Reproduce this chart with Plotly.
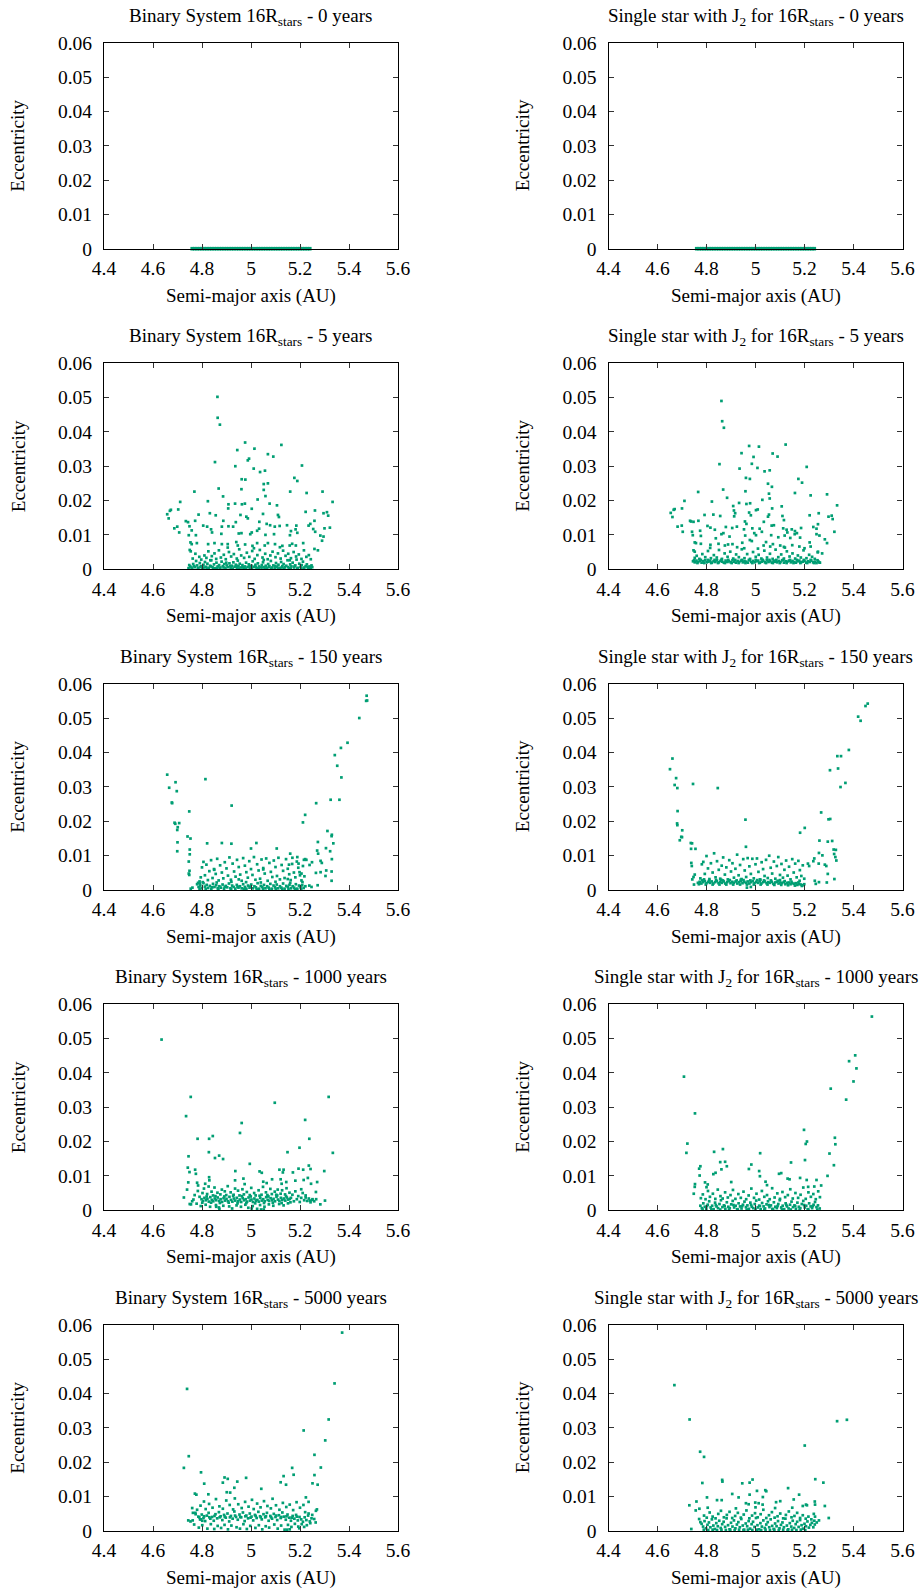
import plotly.graph_objects as go

# axis ticks
A_TICKS = [4.4, 4.6, 4.8, 5.0, 5.2, 5.4, 5.6]
A_LABELS = ["4.4", "4.6", "4.8", "5", "5.2", "5.4", "5.6"]
E_TICKS = [0, 0.01, 0.02, 0.03, 0.04, 0.05, 0.06]
E_LABELS = ["0", "0.01", "0.02", "0.03", "0.04", "0.05", "0.06"]

YEARS = [0, 5, 150, 1000, 5000]

# t = 0: every particle on a circular orbit (e = 0)
ring_a = [4.76, 4.77, 4.78, 4.79, 4.80, 4.81, 4.82, 4.83, 4.84, 4.85, 4.86, 4.87,
          4.88, 4.89, 4.90, 4.91, 4.92, 4.93, 4.94, 4.95, 4.96, 4.97, 4.98, 4.99,
          5.00, 5.01, 5.02, 5.03, 5.04, 5.05, 5.06, 5.07, 5.08, 5.09, 5.10, 5.11,
          5.12, 5.13, 5.14, 5.15, 5.16, 5.17, 5.18, 5.19, 5.20, 5.21, 5.22, 5.23, 5.24]
ring_e = [0.0] * len(ring_a)

# (semi-major axis AU, eccentricity x 1000)
binary_5 = [
    (4.863, 50.2), (4.864, 44.1), (4.873, 42.1), (4.976, 36.9), (5.124, 36.2), (4.944, 34.7),
    (5.014, 35.1), (5.069, 33.5), (5.091, 32.8), (4.992, 32.2), (4.987, 31.7), (4.853, 31.2),
    (4.936, 30.0), (5.208, 30.2), (5.011, 29.3), (5.037, 28.3), (5.057, 28.7), (5.177, 26.6),
    (5.189, 25.7), (4.962, 26.2), (4.977, 26.1), (5.052, 24.8), (5.069, 25.0), (5.052, 23.1),
    (5.059, 21.3), (4.961, 23.3), (4.868, 23.5), (4.769, 22.6), (5.160, 22.6), (5.227, 22.2),
    (5.292, 22.6), (4.886, 21.2), (5.027, 20.3), (4.824, 19.8), (4.711, 19.6), (5.333, 19.6),
    (5.076, 19.1), (4.908, 18.9), (4.935, 19.1), (4.963, 18.9), (4.975, 19.1), (5.106, 18.6),
    (5.003, 17.6), (4.907, 17.7), (4.673, 17.3), (4.669, 17.0), (4.703, 17.4), (5.261, 17.1),
    (5.223, 16.7), (5.310, 16.6), (5.296, 16.3), (4.658, 16.0), (4.664, 14.8), (4.832, 16.3),
    (4.856, 15.7), (4.786, 15.9), (5.049, 16.1), (4.957, 15.8), (4.981, 15.3), (4.987, 14.8),
    (5.110, 15.8), (5.114, 15.2), (5.315, 15.6), (5.034, 13.8), (4.734, 14.0), (4.743, 13.7),
    (4.749, 12.5), (4.772, 14.1), (4.887, 14.1), (4.938, 13.7), (5.242, 13.2), (5.259, 14.1),
    (4.687, 11.9), (4.699, 12.4), (4.707, 10.7), (4.805, 12.7), (4.821, 12.4), (4.881, 12.4),
    (4.908, 12.5), (4.927, 12.4), (5.064, 13.2), (5.078, 12.8), (5.097, 12.4), (5.117, 12.6),
    (5.147, 12.8), (5.185, 12.7), (5.300, 11.9), (5.322, 12.1), (5.235, 12.7), (4.758, 11.3),
    (4.746, 9.9), (4.775, 9.9), (4.837, 11.6), (4.841, 10.7), (4.879, 10.3), (4.950, 10.4),
    (4.961, 10.5), (5.003, 10.7), (4.997, 10.2), (5.025, 11.2), (5.033, 11.8), (5.059, 10.0),
    (5.094, 10.2), (5.163, 11.1), (5.159, 9.9), (5.182, 11.6), (5.189, 10.6), (5.254, 11.7),
    (5.262, 10.9), (5.283, 9.8), (5.296, 9.5), (5.290, 8.3), (4.753, 7.8), (4.758, 7.3),
    (4.779, 7.6), (4.750, 5.6), (4.754, 5.2), (4.825, 7.3), (4.851, 7.6), (4.881, 7.3),
    (4.905, 7.3), (4.940, 7.9), (4.946, 6.9), (4.976, 7.2), (5.006, 6.8), (5.025, 7.6),
    (5.056, 6.9), (5.069, 7.6), (5.098, 7.3), (5.128, 6.8), (5.158, 6.9), (5.168, 7.4),
    (5.183, 6.9), (5.213, 7.6), (5.259, 5.9), (5.273, 5.5),
    # 2 - 6 per mille
    (4.762, 3.1), (4.773, 4.5), (4.789, 3.6), (4.797, 2.8), (4.810, 4.0), (4.818, 3.3),
    (4.826, 5.2), (4.840, 3.8), (4.851, 4.6), (4.858, 3.0), (4.869, 5.5), (4.877, 3.4),
    (4.889, 4.2), (4.897, 2.9), (4.910, 5.0), (4.919, 3.7), (4.930, 4.4), (4.942, 3.1),
    (4.952, 5.8), (4.960, 4.0), (4.972, 3.3), (4.983, 4.8), (4.993, 3.6), (5.005, 5.3),
    (5.015, 3.0), (5.026, 4.1), (5.036, 5.6), (5.047, 3.4), (5.058, 4.5), (5.068, 2.9),
    (5.079, 4.0), (5.088, 5.1), (5.100, 3.5), (5.110, 4.6), (5.121, 3.1), (5.131, 5.4),
    (5.141, 3.9), (5.152, 4.5), (5.163, 3.2), (5.174, 5.0), (5.184, 3.7), (5.195, 4.3),
    (5.206, 3.0), (5.216, 5.5), (5.226, 3.6), (5.236, 4.1), (5.244, 2.9), (4.834, 2.6),
    (4.946, 2.5), (5.052, 2.7), (5.158, 2.6), (4.905, 6.3), (5.012, 6.1), (5.118, 6.4),
    # dense band near e = 0
    (4.745, 0.3), (4.752, 0.8), (4.760, 0.2), (4.764, 1.5), (4.771, 0.6), (4.776, 2.4),
    (4.780, 1.1), (4.785, 0.4), (4.791, 1.8), (4.796, 0.9), (4.802, 0.3), (4.806, 1.3),
    (4.812, 2.1), (4.817, 0.7), (4.822, 1.6), (4.828, 0.4), (4.833, 1.0), (4.838, 2.6),
    (4.843, 0.6), (4.849, 1.4), (4.854, 0.3), (4.859, 1.9), (4.864, 0.8), (4.870, 1.2),
    (4.875, 0.5), (4.880, 2.2), (4.885, 0.9), (4.891, 1.5), (4.896, 0.3), (4.901, 1.1),
    (4.906, 0.6), (4.912, 1.7), (4.917, 0.4), (4.922, 1.0), (4.928, 2.0), (4.933, 0.7),
    (4.938, 1.3), (4.943, 0.4), (4.949, 0.9), (4.954, 1.6), (4.959, 0.5), (4.965, 1.2),
    (4.970, 0.3), (4.975, 0.8), (4.980, 1.9), (4.986, 0.6), (4.991, 1.4), (4.996, 0.4),
    (5.002, 1.0), (5.007, 2.3), (5.012, 0.7), (5.018, 1.3), (5.023, 0.3), (5.028, 1.7),
    (5.033, 0.8), (5.039, 0.5), (5.044, 1.2), (5.049, 2.0), (5.054, 0.6), (5.060, 1.0),
    (5.065, 0.4), (5.070, 1.5), (5.075, 0.9), (5.081, 2.4), (5.086, 0.5), (5.091, 1.1),
    (5.097, 0.3), (5.102, 1.8), (5.107, 0.7), (5.112, 1.3), (5.118, 0.4), (5.123, 2.1),
    (5.128, 0.9), (5.133, 1.5), (5.139, 0.6), (5.144, 1.0), (5.149, 2.6), (5.155, 0.3),
    (5.160, 1.4), (5.165, 0.8), (5.170, 1.9), (5.176, 0.5), (5.181, 1.1), (5.186, 2.8),
    (5.191, 0.4), (5.197, 1.6), (5.202, 0.7), (5.207, 1.2), (5.212, 2.2), (5.218, 0.5),
    (5.223, 0.9), (5.228, 1.4), (5.234, 0.3), (5.239, 0.8), (5.244, 0.4), (5.250, 0.6),
    (4.748, 1.2), (4.757, 0.5), (4.768, 0.9), (4.783, 0.2), (4.794, 0.6), (4.809, 0.5),
    (4.820, 0.2), (4.836, 0.8), (4.846, 0.2), (4.862, 0.4), (4.873, 0.2), (4.888, 0.5),
    (4.899, 1.9), (4.915, 0.9), (4.925, 0.2), (4.941, 1.0), (4.951, 0.2), (4.967, 0.6),
    (4.978, 0.2), (4.994, 0.9), (5.004, 0.3), (5.020, 0.6), (5.031, 0.2), (5.046, 0.5),
    (5.057, 0.2), (5.073, 0.6), (5.083, 0.2), (5.099, 0.9), (5.110, 0.2), (5.126, 0.5),
    (5.136, 0.2), (5.152, 0.6), (5.162, 0.2), (5.178, 0.9), (5.189, 0.2), (5.205, 0.4),
    (5.215, 0.2), (5.231, 0.6), (5.241, 0.2), (5.247, 1.1),
]

single_5 = [
    (4.861, 49.0), (4.864, 43.1), (4.871, 41.2), (4.853, 30.6), (5.123, 36.3), (4.974, 35.9),
    (5.014, 35.7), (4.943, 33.8), (5.070, 33.7), (5.090, 32.8), (4.992, 32.7), (5.209, 29.8),
    (4.985, 30.7), (4.935, 29.3), (5.008, 29.5), (5.037, 28.5), (5.058, 28.8), (4.961, 26.6),
    (4.977, 26.3), (5.175, 26.3), (5.190, 25.2), (5.051, 24.9), (5.067, 24.0), (4.868, 23.2),
    (4.766, 22.5), (4.959, 22.7), (5.055, 22.0), (5.058, 20.6), (5.161, 22.2), (5.225, 21.5),
    (5.292, 21.8), (4.884, 20.8), (5.028, 20.2), (4.710, 19.9), (4.822, 19.7), (5.333, 18.6),
    (4.933, 19.3), (4.963, 19.0), (4.978, 19.2), (5.107, 18.3), (4.909, 18.4), (4.912, 17.1),
    (4.670, 17.5), (4.666, 17.3), (4.700, 17.7), (5.002, 17.2), (5.009, 17.4), (5.068, 17.7),
    (4.654, 16.4), (4.661, 15.2), (4.792, 15.8), (4.828, 15.9), (4.856, 15.5), (4.917, 16.3),
    (4.913, 15.4), (4.974, 16.5), (4.981, 15.7), (5.055, 15.9), (5.051, 15.3), (5.110, 15.5),
    (5.116, 14.3), (5.221, 15.7), (5.258, 16.3), (5.298, 15.3), (5.311, 15.6), (5.315, 14.6),
    (4.733, 14.1), (4.737, 13.9), (4.747, 13.8), (4.767, 14.1), (4.957, 13.9), (4.963, 13.2),
    (5.034, 13.8), (5.066, 12.7), (5.075, 12.8), (5.255, 13.1), (5.249, 11.8), (4.682, 12.4),
    (4.699, 12.7), (4.703, 10.9), (4.804, 12.6), (4.816, 12.1), (4.879, 12.3), (4.905, 12.0),
    (4.924, 12.4), (4.987, 11.9), (5.017, 11.8), (5.113, 11.9), (5.127, 11.5), (5.148, 11.6),
    (5.161, 11.1), (5.186, 12.0), (5.236, 12.3), (5.322, 10.9), (4.741, 10.9), (4.744, 9.9),
    (4.774, 11.2), (4.777, 9.7), (4.834, 11.5), (4.838, 9.0), (4.861, 10.2), (4.869, 10.5),
    (4.894, 9.5), (4.958, 9.8), (4.953, 11.6), (4.995, 10.5), (5.002, 9.9), (5.026, 10.9),
    (5.064, 9.9), (5.093, 9.3), (5.119, 9.8), (5.130, 10.7), (5.142, 9.1), (5.160, 10.2),
    (5.169, 10.5), (5.182, 9.2), (5.249, 10.2), (5.261, 9.8), (5.283, 8.7), (5.292, 7.6),
    (4.752, 7.8), (4.757, 7.6), (4.777, 7.4), (4.747, 5.5), (4.752, 5.1), (4.816, 7.1),
    (4.849, 7.4), (4.875, 6.9), (4.888, 7.2), (4.906, 7.3), (4.946, 7.7), (4.954, 6.1),
    (4.977, 8.5), (4.985, 8.2), (5.033, 6.9), (5.043, 7.9), (5.060, 6.6), (5.071, 7.3),
    (5.101, 6.9), (5.116, 6.5), (5.150, 7.0), (5.179, 6.6), (5.221, 7.8), (5.225, 6.6),
    (5.272, 4.6), (5.255, 5.1),
    # 3 - 6 per mille
    (4.752, 3.3), (4.760, 3.9), (4.771, 3.0), (4.783, 4.4), (4.795, 3.5), (4.806, 5.3),
    (4.818, 3.2), (4.830, 4.1), (4.842, 3.4), (4.851, 5.6), (4.863, 3.0), (4.874, 4.6),
    (4.886, 3.6), (4.897, 5.1), (4.909, 3.1), (4.921, 4.3), (4.932, 3.5), (4.944, 5.8),
    (4.955, 3.2), (4.966, 4.4), (4.978, 3.0), (4.990, 5.0), (5.001, 3.6), (5.013, 4.2),
    (5.024, 3.1), (5.036, 5.4), (5.047, 3.4), (5.059, 4.5), (5.070, 3.0), (5.082, 5.7),
    (5.093, 3.5), (5.105, 4.3), (5.116, 3.1), (5.128, 5.2), (5.139, 3.7), (5.151, 4.6),
    (5.162, 3.1), (5.173, 4.0), (5.185, 3.4), (5.196, 5.5), (5.208, 3.2), (5.219, 4.2),
    (5.231, 3.6), (5.242, 3.0), (5.254, 4.9), (4.815, 6.2), (4.925, 6.4), (5.010, 6.0),
    (5.120, 6.3), (5.200, 6.1),
    # narrow band at about 2 per mille
    (4.745, 2.3), (4.752, 2.0), (4.759, 2.5), (4.766, 2.1), (4.773, 2.4), (4.780, 1.9),
    (4.787, 2.3), (4.794, 2.6), (4.801, 2.0), (4.808, 2.2), (4.815, 2.5), (4.822, 1.9),
    (4.829, 2.3), (4.836, 2.1), (4.843, 2.6), (4.850, 2.0), (4.857, 2.4), (4.864, 2.2),
    (4.871, 1.9), (4.878, 2.5), (4.885, 2.1), (4.892, 2.3), (4.899, 2.0), (4.906, 2.6),
    (4.913, 2.2), (4.920, 1.9), (4.927, 2.4), (4.934, 2.1), (4.941, 2.5), (4.948, 2.0),
    (4.955, 2.3), (4.962, 2.2), (4.969, 1.9), (4.976, 2.6), (4.983, 2.1), (4.990, 2.4),
    (4.997, 2.0), (5.004, 2.3), (5.011, 2.5), (5.018, 1.9), (5.025, 2.2), (5.032, 2.4),
    (5.039, 2.0), (5.046, 2.6), (5.053, 2.1), (5.060, 2.3), (5.067, 1.9), (5.074, 2.5),
    (5.081, 2.2), (5.088, 2.0), (5.095, 2.4), (5.102, 2.1), (5.109, 2.6), (5.116, 1.9),
    (5.123, 2.3), (5.130, 2.2), (5.137, 2.5), (5.144, 2.0), (5.151, 2.4), (5.158, 2.1),
    (5.165, 1.9), (5.172, 2.3), (5.179, 2.5), (5.186, 2.0), (5.193, 2.2), (5.200, 2.4),
    (5.207, 1.9), (5.214, 2.3), (5.221, 2.1), (5.228, 2.5), (5.235, 2.0), (5.242, 2.2),
    (5.249, 1.8), (5.256, 2.3), (5.263, 1.9),
    (4.749, 2.6), (4.763, 1.8), (4.777, 2.7), (4.791, 1.8), (4.805, 2.7), (4.819, 1.8),
    (4.833, 2.7), (4.847, 1.8), (4.861, 2.7), (4.875, 1.8), (4.889, 2.7), (4.903, 1.8),
    (4.917, 2.7), (4.931, 1.8), (4.945, 2.7), (4.959, 1.8), (4.973, 2.7), (4.987, 1.8),
    (5.001, 2.7), (5.015, 1.8), (5.029, 2.7), (5.043, 1.8), (5.057, 2.7), (5.071, 1.8),
    (5.085, 2.7), (5.099, 1.8), (5.113, 2.7), (5.127, 1.8), (5.141, 2.7), (5.155, 1.8),
    (5.169, 2.7), (5.183, 1.8), (5.197, 2.7), (5.211, 1.8), (5.225, 2.7), (5.239, 1.8),
    (5.253, 2.6), (5.260, 2.0),
]

binary_150 = [
    (5.472, 56.5), (5.474, 55.1), (5.470, 55.0), (5.442, 50.0),
    (4.658, 33.5), (4.666, 29.7), (4.692, 31.3), (4.697, 28.7), (4.677, 25.4), (4.678, 25.2),
    (4.688, 19.5), (4.691, 19.2), (4.707, 19.4), (4.701, 18.2), (4.699, 17.4), (4.700, 13.8),
    (4.699, 11.2), (4.814, 32.2), (4.748, 22.8), (4.921, 24.5), (4.741, 15.5), (4.753, 14.9),
    (4.750, 11.7), (4.746, 8.2), (4.750, 10.3), (4.749, 5.5), (4.746, 4.7), (4.748, 4.3),
    (4.821, 13.5), (4.881, 13.6), (4.920, 13.4), (5.000, 12.0), (5.022, 13.6), (5.105, 12.0),
    (5.342, 39.2), (5.367, 41.3), (5.394, 42.8), (5.352, 36.1), (5.369, 32.7), (5.325, 26.2),
    (5.361, 26.2), (5.266, 25.2), (5.221, 21.8), (5.212, 19.6), (5.312, 17.1), (5.330, 16.0),
    (5.329, 15.6), (5.273, 13.9), (5.336, 13.5), (5.306, 12.1), (5.323, 11.2), (5.270, 11.4),
    (5.274, 10.5), (5.284, 8.4), (5.289, 7.8), (5.330, 8.9), (5.249, 8.0), (5.239, 7.2),
    (5.265, 4.9), (5.284, 5.1), (5.307, 5.6), (5.329, 5.3), (5.304, 4.0), (5.329, 2.6),
    (5.272, 1.3), (5.238, 1.2), (5.247, 0.8), (5.160, 10.5), (5.169, 9.3), (5.155, 7.3),
    (5.189, 9.5), (5.194, 7.6), (5.221, 8.9), (5.216, 8.7), (5.226, 8.7), (5.198, 5.1),
    (5.206, 4.7), (4.754, 0.3), (4.761, 0.6), (4.784, 2.0), (4.791, 1.8),
    # 2 - 9.5 per mille
    (4.795, 3.6), (4.800, 6.5), (4.806, 8.1), (4.812, 4.2), (4.818, 7.3), (4.824, 2.8),
    (4.830, 5.4), (4.837, 8.6), (4.843, 3.4), (4.849, 6.0), (4.856, 4.6), (4.862, 9.0),
    (4.868, 2.7), (4.874, 7.1), (4.881, 5.0), (4.887, 3.3), (4.893, 8.0), (4.900, 6.2),
    (4.906, 4.1), (4.912, 9.4), (4.918, 2.9), (4.925, 7.6), (4.931, 5.3), (4.937, 3.8),
    (4.943, 8.7), (4.950, 6.6), (4.956, 4.4), (4.962, 2.6), (4.968, 9.2), (4.975, 7.0),
    (4.981, 5.1), (4.987, 3.5), (4.993, 8.3), (5.000, 6.0), (5.006, 4.3), (5.012, 9.5),
    (5.018, 2.9), (5.025, 7.4), (5.031, 5.6), (5.037, 3.2), (5.043, 8.8), (5.050, 6.3),
    (5.056, 4.7), (5.062, 9.1), (5.068, 2.6), (5.075, 7.8), (5.081, 5.2), (5.087, 3.7),
    (5.093, 8.5), (5.100, 6.6), (5.106, 4.0), (5.112, 9.3), (5.118, 3.0), (5.125, 7.2),
    (5.131, 5.5), (5.137, 3.4), (5.143, 8.9), (5.150, 6.1), (5.156, 4.5), (5.162, 2.8),
    (5.168, 7.5), (5.175, 5.0), (5.181, 3.6), (5.187, 8.2), (5.193, 6.4), (5.200, 4.2),
    (5.206, 2.7), (5.212, 6.9), (5.218, 3.9), (4.790, 2.4), (4.803, 2.2), (4.860, 2.1),
    (4.920, 2.3), (4.980, 2.2), (5.040, 2.1), (5.100, 2.3), (5.160, 2.0), (5.210, 2.2),
    (4.850, 5.8), (4.950, 3.0), (5.050, 5.9), (5.150, 3.1),
    # dense band near e = 0
    (4.780, 1.6), (4.786, 0.8), (4.793, 1.2), (4.799, 0.4), (4.806, 1.9), (4.812, 0.9),
    (4.819, 1.4), (4.825, 0.5), (4.832, 1.1), (4.838, 0.3), (4.845, 1.7), (4.851, 0.8),
    (4.858, 1.3), (4.864, 0.4), (4.871, 1.0), (4.877, 0.6), (4.884, 1.5), (4.890, 0.3),
    (4.897, 1.1), (4.903, 0.7), (4.910, 1.8), (4.916, 0.4), (4.923, 1.2), (4.929, 0.8),
    (4.936, 0.3), (4.942, 1.4), (4.949, 0.6), (4.955, 1.0), (4.962, 0.4), (4.968, 1.6),
    (4.975, 0.8), (4.981, 0.3), (4.988, 1.2), (4.994, 0.6), (5.001, 1.5), (5.007, 0.4),
    (5.014, 1.0), (5.020, 0.7), (5.027, 1.9), (5.033, 0.3), (5.040, 1.1), (5.046, 0.8),
    (5.053, 1.4), (5.059, 0.4), (5.066, 1.0), (5.072, 0.6), (5.079, 1.7), (5.085, 0.3),
    (5.092, 1.2), (5.098, 0.7), (5.105, 1.5), (5.111, 0.4), (5.118, 1.0), (5.124, 0.6),
    (5.131, 1.8), (5.137, 0.3), (5.144, 1.1), (5.150, 0.8), (5.157, 1.4), (5.163, 0.4),
    (5.170, 1.0), (5.176, 0.6), (5.183, 1.6), (5.189, 0.3), (5.196, 1.2), (5.202, 0.7),
    (5.209, 1.3), (5.215, 0.5), (5.222, 1.0),
    (4.790, 0.3), (4.815, 0.2), (4.842, 0.7), (4.867, 0.2), (4.893, 0.8), (4.919, 0.2),
    (4.945, 0.9), (4.971, 0.2), (4.997, 0.9), (5.023, 0.2), (5.049, 0.3), (5.075, 0.2),
    (5.101, 0.3), (5.127, 0.2), (5.153, 0.2), (5.179, 0.2), (5.205, 0.2),
]

single_150 = [
    (5.458, 54.2), (5.449, 53.5), (5.419, 50.4), (5.429, 49.2),
    (4.651, 35.1), (4.661, 38.2), (4.676, 32.5), (4.670, 30.5), (4.681, 29.6), (4.745, 30.8),
    (4.846, 29.6), (4.682, 22.9), (4.680, 19.3), (4.681, 18.8), (4.701, 17.3), (4.697, 15.4),
    (4.691, 14.4), (4.700, 15.3), (4.736, 13.6), (4.741, 13.5), (4.737, 11.9), (4.755, 11.9),
    (4.738, 7.8), (4.740, 6.9), (4.747, 3.7), (4.752, 4.4), (4.749, 1.5), (4.742, 3.0),
    (4.959, 20.4), (4.961, 12.5), (5.268, 22.5), (5.298, 20.5), (5.305, 20.6), (5.182, 16.6),
    (5.201, 18.0), (5.304, 34.8), (5.334, 38.9), (5.349, 38.9), (5.381, 40.7), (5.337, 35.3),
    (5.347, 29.9), (5.367, 31.1), (5.261, 14.3), (5.295, 14.0), (5.313, 14.2), (5.259, 10.7),
    (5.273, 10.0), (5.319, 11.7), (5.328, 11.6), (5.321, 10.4), (5.326, 9.5), (5.330, 8.5),
    (5.283, 7.3), (5.289, 6.9), (5.295, 4.6), (5.291, 2.1), (5.322, 3.1), (5.236, 8.3),
    (5.258, 7.6), (5.240, 9.1), (5.214, 7.6), (5.219, 6.9), (5.242, 2.6), (5.259, 2.2),
    (5.246, 1.7), (4.965, 0.6), (4.981, 0.8),
    # 2.5 - 11 per mille
    (4.775, 3.3), (4.781, 7.4), (4.787, 8.1), (4.793, 4.6), (4.800, 9.8), (4.806, 6.2),
    (4.812, 3.1), (4.818, 7.7), (4.825, 5.0), (4.831, 10.6), (4.837, 3.6), (4.843, 8.3),
    (4.850, 5.8), (4.856, 3.2), (4.862, 7.0), (4.868, 9.4), (4.875, 4.4), (4.881, 6.5),
    (4.887, 3.0), (4.893, 8.6), (4.900, 5.3), (4.906, 7.7), (4.912, 3.5), (4.918, 6.1),
    (4.925, 10.2), (4.931, 4.2), (4.937, 7.2), (4.943, 3.1), (4.950, 8.9), (4.956, 5.6),
    (4.962, 3.7), (4.968, 9.2), (4.975, 6.8), (4.981, 4.6), (4.987, 9.0), (4.993, 3.3),
    (5.000, 7.4), (5.006, 9.1), (5.012, 5.2), (5.018, 3.0), (5.025, 8.0), (5.031, 6.0),
    (5.037, 4.0), (5.043, 8.7), (5.050, 3.4), (5.056, 9.9), (5.062, 6.4), (5.068, 4.7),
    (5.075, 8.2), (5.081, 3.2), (5.087, 6.9), (5.093, 9.5), (5.100, 4.3), (5.106, 7.5),
    (5.112, 3.5), (5.118, 5.8), (5.125, 8.5), (5.131, 4.1), (5.137, 6.7), (5.143, 3.0),
    (5.150, 8.9), (5.156, 5.0), (5.162, 7.6), (5.168, 3.6), (5.175, 8.4), (5.181, 5.7),
    (5.187, 4.0), (5.193, 7.1), (5.199, 3.2), (4.790, 3.0), (4.860, 2.9), (4.940, 2.9),
    (5.020, 2.9), (5.100, 2.8), (5.180, 2.6),
    # band at about 2 per mille
    (4.765, 2.0), (4.772, 2.3), (4.779, 1.8), (4.786, 2.2), (4.793, 2.5), (4.800, 1.9),
    (4.807, 2.3), (4.814, 2.0), (4.821, 2.4), (4.828, 1.8), (4.835, 2.2), (4.842, 2.5),
    (4.849, 1.9), (4.856, 2.3), (4.863, 2.0), (4.870, 2.4), (4.877, 1.8), (4.884, 2.2),
    (4.891, 2.5), (4.898, 1.9), (4.905, 2.3), (4.912, 2.0), (4.919, 2.4), (4.926, 1.8),
    (4.933, 2.2), (4.940, 2.5), (4.947, 1.9), (4.954, 2.3), (4.961, 2.0), (4.968, 2.4),
    (4.975, 1.8), (4.982, 2.2), (4.989, 2.5), (4.996, 1.9), (5.003, 2.3), (5.010, 2.0),
    (5.017, 2.4), (5.024, 1.8), (5.031, 2.2), (5.038, 2.4), (5.045, 1.9), (5.052, 2.2),
    (5.059, 2.0), (5.066, 2.3), (5.073, 1.7), (5.080, 2.1), (5.087, 2.3), (5.094, 1.8),
    (5.101, 2.1), (5.108, 1.9), (5.115, 2.2), (5.122, 1.6), (5.129, 2.0), (5.136, 2.1),
    (5.143, 1.6), (5.150, 1.9), (5.157, 1.7), (5.164, 1.9), (5.171, 1.4), (5.178, 1.7),
    (5.185, 1.5), (5.192, 1.3), (5.199, 1.6),
    (4.769, 1.6), (4.783, 2.7), (4.797, 1.5), (4.811, 2.7), (4.825, 1.5), (4.839, 2.8),
    (4.853, 1.5), (4.867, 2.7), (4.881, 1.5), (4.895, 2.8), (4.909, 1.5), (4.923, 2.7),
    (4.937, 1.5), (4.951, 2.8), (4.965, 1.5), (4.979, 2.7), (4.993, 1.5), (5.007, 2.8),
    (5.021, 1.5), (5.035, 2.7), (5.049, 1.5), (5.063, 2.7), (5.077, 1.4), (5.091, 2.6),
    (5.105, 1.4), (5.119, 2.5), (5.133, 1.3), (5.147, 2.3), (5.161, 1.2), (5.175, 2.1),
    (5.189, 1.1),
]

binary_1000 = [
    (4.635, 49.7), (4.754, 33.0), (4.735, 27.4), (5.097, 31.3), (5.317, 33.0), (5.221, 26.3),
    (4.962, 25.4), (4.955, 22.5), (4.782, 20.8), (4.829, 20.8), (4.844, 21.6), (5.238, 20.8),
    (5.198, 18.2), (4.828, 16.9), (5.149, 16.9), (5.334, 16.7), (4.745, 15.7), (4.853, 15.2),
    (4.870, 15.9), (4.886, 14.9), (4.995, 13.5), (4.742, 12.4), (4.749, 11.1), (4.772, 11.8),
    (4.775, 10.6), (4.936, 11.4), (5.035, 11.3), (5.044, 10.9), (5.116, 11.8), (5.133, 11.8),
    (5.130, 11.0), (5.171, 11.0), (5.194, 12.1), (5.213, 11.8), (5.236, 13.0), (5.243, 12.0),
    (5.299, 11.4), (4.744, 8.1), (4.739, 6.0), (4.726, 3.7), (4.750, 1.8), (4.780, 8.0),
    (4.784, 7.2), (4.813, 7.7), (4.829, 9.6), (4.830, 8.7), (4.935, 8.7), (4.969, 9.2),
    (4.974, 7.6), (5.050, 8.3), (5.064, 7.9), (5.086, 9.0), (5.121, 9.0), (5.125, 7.7),
    (5.144, 8.2), (5.181, 8.6), (5.215, 8.8), (5.232, 9.4), (5.245, 7.7), (5.270, 8.2),
    (5.265, 5.3), (5.251, 3.2), (5.240, 2.8), (5.283, 1.7), (5.302, 2.8), (5.205, 6.1),
    (5.223, 4.3), (4.858, 1.0), (4.871, 0.4), (5.003, 0.5), (5.041, 0.2), (5.052, 0.2),
    # band at about 3 per mille
    (4.798, 3.2), (4.804, 2.7), (4.810, 3.6), (4.816, 2.9), (4.822, 3.3), (4.828, 2.5),
    (4.834, 3.8), (4.840, 3.0), (4.846, 2.6), (4.852, 3.4), (4.858, 2.9), (4.864, 3.7),
    (4.870, 2.7), (4.876, 3.2), (4.882, 2.4), (4.888, 3.5), (4.894, 2.8), (4.900, 3.3),
    (4.906, 2.6), (4.912, 3.9), (4.918, 3.0), (4.924, 2.5), (4.930, 3.4), (4.936, 2.8),
    (4.942, 3.6), (4.948, 2.6), (4.954, 3.1), (4.960, 2.4), (4.966, 3.5), (4.972, 2.9),
    (4.978, 3.2), (4.984, 2.5), (4.990, 3.7), (4.996, 2.8), (5.002, 3.1), (5.008, 2.4),
    (5.014, 3.4), (5.020, 2.7), (5.026, 3.0), (5.032, 2.5), (5.038, 3.6), (5.044, 2.8),
    (5.050, 3.2), (5.056, 2.6), (5.062, 3.8), (5.068, 3.0), (5.074, 2.7), (5.080, 3.5),
    (5.086, 2.9), (5.092, 3.3), (5.098, 2.6), (5.104, 3.9), (5.110, 3.1), (5.116, 2.7),
    (5.122, 3.6), (5.128, 3.0), (5.134, 3.4), (5.140, 2.8), (5.146, 3.7), (5.152, 3.1),
    (5.158, 3.3),
    (4.801, 2.2), (4.819, 4.0), (4.837, 2.2), (4.855, 4.1), (4.873, 2.1), (4.891, 4.0),
    (4.909, 2.2), (4.927, 4.2), (4.945, 2.0), (4.963, 4.1), (4.981, 2.1), (4.999, 4.0),
    (5.017, 2.0), (5.035, 4.2), (5.053, 2.1), (5.071, 4.0), (5.089, 2.2), (5.107, 4.3),
    (5.125, 2.1), (5.143, 4.1), (5.161, 2.3),
    # spread 0.5 - 7 per mille
    (4.765, 3.1), (4.770, 4.4), (4.778, 1.9), (4.783, 5.6), (4.790, 3.9), (4.795, 1.2),
    (4.802, 5.0), (4.808, 6.3), (4.815, 1.6), (4.821, 4.7), (4.827, 6.9), (4.833, 1.0),
    (4.839, 5.4), (4.845, 4.3), (4.851, 6.6), (4.857, 1.5), (4.863, 5.1), (4.869, 0.8),
    (4.875, 4.6), (4.881, 6.0), (4.887, 1.3), (4.893, 5.5), (4.899, 4.4), (4.905, 7.0),
    (4.911, 1.1), (4.917, 5.2), (4.923, 0.5), (4.929, 4.5), (4.935, 6.3), (4.941, 1.4),
    (4.947, 5.7), (4.953, 4.3), (4.959, 1.0), (4.965, 6.1), (4.971, 4.6), (4.977, 1.6),
    (4.983, 5.3), (4.989, 0.7), (4.995, 4.4), (5.001, 6.5), (5.007, 1.2), (5.013, 5.0),
    (5.019, 4.3), (5.025, 0.4), (5.031, 5.8), (5.037, 1.5), (5.043, 4.5), (5.049, 6.8),
    (5.055, 1.0), (5.061, 5.2), (5.067, 4.4), (5.073, 1.7), (5.079, 6.2), (5.085, 4.7),
    (5.091, 1.3), (5.097, 5.4), (5.103, 4.5), (5.109, 6.0), (5.115, 1.8), (5.121, 4.8),
    (5.127, 5.8), (5.133, 1.4), (5.139, 4.6), (5.145, 6.4), (5.151, 2.0), (5.157, 5.1),
    (5.163, 3.6), (5.169, 4.5), (5.175, 2.6), (5.181, 5.5), (5.187, 3.2), (5.193, 4.1),
    (5.199, 2.4), (5.205, 3.6), (5.211, 5.0), (5.217, 2.9), (5.223, 3.7), (5.229, 2.7),
    (5.236, 3.4), (5.243, 2.3), (5.250, 3.0), (5.258, 2.6), (5.266, 3.2), (4.760, 2.6),
    (4.755, 1.7),
]

single_1000 = [
    (4.708, 38.9), (4.753, 28.2), (4.722, 19.4), (4.718, 16.7), (5.475, 56.4), (5.407, 45.1),
    (5.382, 43.4), (5.412, 41.3), (5.400, 37.5), (5.307, 35.4), (5.370, 32.2), (5.198, 23.4),
    (5.210, 20.0), (5.205, 19.3), (5.202, 14.6), (5.324, 21.1), (5.326, 19.2), (5.302, 16.5),
    (5.320, 13.1), (5.294, 10.0), (5.249, 8.8), (5.268, 7.2), (5.019, 16.6), (4.831, 17.0),
    (4.867, 17.8), (4.856, 14.0), (4.876, 14.1), (4.883, 12.8), (4.861, 11.9), (4.837, 10.9),
    (4.828, 10.5), (4.775, 12.8), (4.770, 12.1), (4.772, 10.1), (4.753, 7.6), (4.752, 6.8),
    (4.748, 4.8), (4.983, 13.3), (4.973, 12.0), (5.015, 11.4), (5.018, 9.9), (5.145, 13.9),
    (5.096, 10.6), (5.105, 10.8), (5.131, 9.2), (5.139, 9.0), (5.182, 9.4), (5.209, 8.8),
    (4.794, 8.1), (4.805, 7.5), (4.901, 8.2), (5.041, 8.3), (5.047, 7.3),
    # 3 - 7 per mille
    (4.777, 3.5), (4.785, 4.6), (4.796, 3.2), (4.806, 5.6), (4.814, 3.9), (4.826, 4.8),
    (4.836, 3.3), (4.846, 6.0), (4.857, 4.1), (4.866, 3.4), (4.876, 5.2), (4.887, 3.7),
    (4.898, 4.4), (4.908, 5.9), (4.918, 3.3), (4.930, 4.7), (4.940, 3.6), (4.951, 5.4),
    (4.962, 3.2), (4.972, 4.3), (4.983, 6.3), (4.994, 3.6), (5.004, 4.8), (5.015, 3.1),
    (5.026, 5.6), (5.036, 3.9), (5.047, 4.4), (5.058, 3.2), (5.068, 6.4), (5.078, 3.7),
    (5.089, 4.9), (5.100, 3.3), (5.110, 5.3), (5.121, 3.8), (5.132, 4.4), (5.142, 6.1),
    (5.152, 3.4), (5.163, 5.0), (5.174, 3.6), (5.184, 4.5), (5.195, 6.6), (5.205, 3.3),
    (5.216, 5.2), (5.226, 3.9), (5.236, 4.7), (5.246, 3.2), (5.256, 5.5), (5.263, 3.8),
    (5.240, 6.9), (5.215, 6.8), (4.800, 6.7),
    # dense 0 - 3 per mille
    (4.775, 1.3), (4.781, 0.6), (4.787, 2.0), (4.793, 1.0), (4.799, 0.4), (4.805, 1.6),
    (4.811, 2.6), (4.817, 0.8), (4.823, 1.3), (4.829, 0.3), (4.835, 2.2), (4.841, 1.1),
    (4.847, 0.6), (4.853, 1.8), (4.859, 2.9), (4.865, 0.9), (4.871, 1.4), (4.877, 0.4),
    (4.883, 2.3), (4.889, 1.0), (4.895, 0.6), (4.901, 1.7), (4.907, 2.7), (4.913, 0.8),
    (4.919, 1.3), (4.925, 0.3), (4.931, 2.0), (4.937, 1.1), (4.943, 0.5), (4.949, 1.6),
    (4.955, 2.5), (4.961, 0.9), (4.967, 1.4), (4.973, 0.4), (4.979, 2.2), (4.985, 1.0),
    (4.991, 0.6), (4.997, 1.8), (5.003, 2.8), (5.009, 0.8), (5.015, 1.3), (5.021, 0.3),
    (5.027, 2.1), (5.033, 1.1), (5.039, 0.5), (5.045, 1.7), (5.051, 2.6), (5.057, 0.9),
    (5.063, 1.4), (5.069, 0.4), (5.075, 2.3), (5.081, 1.0), (5.087, 0.6), (5.093, 1.8),
    (5.099, 2.9), (5.105, 0.8), (5.111, 1.3), (5.117, 0.3), (5.123, 2.0), (5.129, 1.1),
    (5.135, 0.5), (5.141, 1.6), (5.147, 2.5), (5.153, 0.9), (5.159, 1.4), (5.165, 0.4),
    (5.171, 2.2), (5.177, 1.0), (5.183, 0.6), (5.189, 1.8), (5.195, 2.7), (5.201, 0.8),
    (5.207, 1.3), (5.213, 0.3), (5.219, 2.0), (5.225, 1.1), (5.231, 0.6), (5.237, 1.6),
    (5.243, 2.4), (5.249, 0.9), (5.255, 1.4), (5.262, 0.5),
    (4.784, 0.2), (4.802, 1.2), (4.820, 0.2), (4.838, 1.5), (4.856, 0.2), (4.874, 1.2),
    (4.892, 0.2), (4.910, 1.5), (4.928, 0.2), (4.946, 1.2), (4.964, 0.2), (4.982, 1.5),
    (5.000, 0.2), (5.018, 1.2), (5.036, 0.2), (5.054, 1.5), (5.072, 0.2), (5.090, 1.2),
    (5.108, 0.2), (5.126, 1.5), (5.144, 0.2), (5.162, 1.2), (5.180, 0.2), (5.198, 1.5),
    (5.216, 0.2), (5.234, 1.2), (5.252, 0.2),
]

binary_5000 = [
    (5.372, 57.7), (5.341, 42.9), (4.739, 41.3), (5.317, 32.4), (5.215, 29.2), (5.303, 26.3),
    (5.259, 22.1), (4.746, 21.7), (4.726, 18.3), (5.285, 18.4), (5.168, 18.3), (4.796, 17.0),
    (5.174, 16.3), (5.133, 15.9), (5.259, 16.2), (4.892, 15.5), (4.905, 15.1), (4.980, 15.4),
    (5.143, 13.4), (5.121, 14.1), (5.251, 13.8), (5.272, 13.4), (4.809, 13.7), (4.885, 14.0),
    (4.944, 14.3), (4.932, 12.5), (5.042, 12.2), (4.771, 10.8), (4.777, 10.5), (4.826, 10.6),
    (4.901, 11.2), (4.915, 11.1), (5.224, 9.7), (5.235, 8.4), (5.269, 6.2), (4.760, 6.6),
    (4.763, 5.2), (4.773, 5.2), (4.744, 3.0), (4.753, 2.7), (4.795, 3.3), (4.801, 2.9),
    (5.264, 2.4), (5.217, 1.1), (5.197, 0.7), (5.158, 0.4), (5.147, 0.3),
    # core at about 4 per mille
    (4.785, 4.1), (4.792, 3.3), (4.799, 4.7), (4.806, 3.7), (4.813, 2.8), (4.820, 4.4),
    (4.827, 5.2), (4.834, 3.5), (4.841, 4.0), (4.848, 2.9), (4.855, 4.8), (4.862, 3.6),
    (4.869, 5.4), (4.876, 4.2), (4.883, 3.1), (4.890, 4.6), (4.897, 3.8), (4.904, 5.0),
    (4.911, 2.7), (4.918, 4.3), (4.925, 3.5), (4.932, 5.6), (4.939, 4.0), (4.946, 3.2),
    (4.953, 4.7), (4.960, 3.9), (4.967, 5.3), (4.974, 2.8), (4.981, 4.4), (4.988, 3.6),
    (4.995, 5.0), (5.002, 4.1), (5.009, 3.0), (5.016, 4.6), (5.023, 3.7), (5.030, 5.5),
    (5.037, 4.2), (5.044, 3.3), (5.051, 4.8), (5.058, 3.9), (5.065, 5.2), (5.072, 2.9),
    (5.079, 4.3), (5.086, 3.5), (5.093, 4.9), (5.100, 4.0), (5.107, 3.1), (5.114, 4.5),
    (5.121, 3.7), (5.128, 5.3), (5.135, 4.1), (5.142, 3.2), (5.149, 4.7), (5.156, 3.8),
    (5.163, 2.9), (5.170, 4.3), (5.177, 3.5), (5.184, 4.6), (5.191, 3.0), (5.198, 4.0),
    (5.205, 3.3), (5.212, 2.6), (5.219, 3.9), (5.226, 3.1), (5.233, 4.4), (5.240, 2.7),
    (5.247, 3.6),
    (4.789, 3.9), (4.809, 4.2), (4.830, 3.9), (4.851, 4.3), (4.872, 3.9), (4.893, 4.1),
    (4.914, 3.9), (4.935, 4.4), (4.956, 4.0), (4.977, 4.2), (4.998, 3.8), (5.019, 4.3),
    (5.040, 3.9), (5.061, 4.2), (5.082, 3.9), (5.103, 4.4), (5.124, 4.0), (5.145, 4.2),
    (5.166, 3.8), (5.187, 4.1),
    # spread 0 - 10 per mille
    (4.762, 3.0), (4.768, 1.8), (4.774, 4.8), (4.780, 6.1), (4.787, 0.9), (4.794, 7.3),
    (4.801, 1.6), (4.808, 8.5), (4.815, 6.3), (4.822, 0.6), (4.829, 7.8), (4.836, 1.9),
    (4.843, 6.7), (4.850, 0.5), (4.857, 9.2), (4.864, 1.4), (4.871, 7.1), (4.878, 0.8),
    (4.885, 6.4), (4.892, 1.7), (4.899, 8.8), (4.906, 0.4), (4.913, 7.5), (4.920, 1.5),
    (4.927, 6.2), (4.934, 9.4), (4.941, 1.0), (4.948, 7.7), (4.955, 0.6), (4.962, 6.6),
    (4.969, 1.9), (4.976, 8.4), (4.983, 0.5), (4.990, 7.0), (4.997, 1.4), (5.004, 9.0),
    (5.011, 6.3), (5.018, 0.8), (5.025, 7.9), (5.032, 1.6), (5.039, 6.8), (5.046, 0.4),
    (5.053, 8.6), (5.060, 1.3), (5.067, 7.2), (5.074, 0.9), (5.081, 6.5), (5.088, 9.3),
    (5.095, 1.8), (5.102, 7.4), (5.109, 0.6), (5.116, 6.1), (5.123, 1.5), (5.130, 8.1),
    (5.137, 0.3), (5.144, 6.9), (5.151, 1.7), (5.158, 7.6), (5.165, 1.1), (5.172, 6.0),
    (5.179, 2.0), (5.186, 8.3), (5.193, 1.2), (5.200, 6.7), (5.207, 1.9), (5.214, 7.5),
    (5.221, 5.4), (5.228, 1.6), (5.235, 5.0), (5.242, 2.2), (5.250, 4.6), (5.258, 3.4),
    (5.265, 5.8),
]

single_5000 = [
    (4.669, 42.4), (4.731, 32.4), (5.333, 31.9), (5.373, 32.3), (5.201, 24.8), (4.774, 23.0),
    (4.790, 21.5), (4.783, 13.9), (4.864, 14.8), (4.865, 14.3), (4.946, 13.8), (4.976, 14.0),
    (4.988, 14.9), (5.244, 15.0), (5.277, 14.0), (5.133, 12.4), (5.006, 11.6), (5.040, 11.8),
    (5.044, 11.5), (4.905, 10.7), (4.931, 9.7), (4.976, 10.5), (5.030, 9.8), (5.178, 10.5),
    (4.802, 9.7), (4.843, 8.9), (4.862, 8.9), (4.759, 8.5), (4.730, 7.4), (5.283, 7.2),
    (5.299, 3.7), (5.242, 8.5), (5.243, 7.6), (5.210, 7.4), (5.206, 7.6), (5.193, 7.2),
    (5.156, 9.1), (5.084, 8.3), (5.101, 8.6), (4.961, 8.0), (4.972, 7.7), (4.999, 8.2),
    (5.013, 8.0), (5.029, 7.6), (4.805, 6.7), (4.771, 6.4), (4.756, 5.9), (4.738, 0.5),
    (5.259, 3.0), (5.243, 4.1), (5.238, 4.9),
    # 2.5 - 7 per mille
    (4.790, 4.4), (4.801, 3.8), (4.813, 5.3), (4.825, 4.1), (4.837, 3.6), (4.848, 4.9),
    (4.859, 5.8), (4.871, 3.9), (4.883, 4.6), (4.894, 5.5), (4.905, 3.7), (4.917, 4.3),
    (4.928, 5.2), (4.940, 3.8), (4.952, 4.7), (4.963, 5.9), (4.975, 3.6), (4.986, 4.4),
    (4.998, 5.1), (5.009, 3.9), (5.021, 4.8), (5.032, 6.1), (5.044, 3.7), (5.055, 4.5),
    (5.067, 5.4), (5.078, 3.8), (5.090, 4.2), (5.101, 5.0), (5.113, 3.6), (5.124, 4.6),
    (5.136, 5.6), (5.147, 3.9), (5.159, 4.3), (5.170, 5.2), (5.182, 3.7), (5.193, 4.5),
    (5.205, 3.5), (5.216, 4.1), (5.228, 3.3), (5.240, 2.9), (5.250, 2.4), (4.770, 3.4),
    (4.775, 2.5), (4.920, 6.5), (5.000, 6.8), (5.080, 6.6), (5.150, 6.7),
    # dense 0 - 3.5 per mille
    (4.780, 2.0), (4.786, 1.2), (4.792, 2.8), (4.798, 0.7), (4.804, 1.7), (4.810, 2.4),
    (4.816, 1.0), (4.822, 3.3), (4.828, 1.5), (4.834, 0.5), (4.840, 2.2), (4.846, 1.3),
    (4.852, 2.9), (4.858, 0.8), (4.864, 1.9), (4.870, 2.6), (4.876, 1.1), (4.882, 3.6),
    (4.888, 1.6), (4.894, 0.4), (4.900, 2.3), (4.906, 1.2), (4.912, 3.0), (4.918, 0.7),
    (4.924, 1.8), (4.930, 2.5), (4.936, 1.0), (4.942, 3.4), (4.948, 1.5), (4.954, 0.3),
    (4.960, 2.1), (4.966, 1.3), (4.972, 2.8), (4.978, 0.6), (4.984, 1.9), (4.990, 2.6),
    (4.996, 1.1), (5.002, 3.7), (5.008, 1.6), (5.014, 0.4), (5.020, 2.2), (5.026, 1.2),
    (5.032, 3.0), (5.038, 0.8), (5.044, 1.8), (5.050, 2.5), (5.056, 1.0), (5.062, 3.3),
    (5.068, 1.4), (5.074, 0.5), (5.080, 2.1), (5.086, 1.3), (5.092, 2.8), (5.098, 0.7),
    (5.104, 1.7), (5.110, 2.4), (5.116, 1.0), (5.122, 3.5), (5.128, 1.5), (5.134, 0.4),
    (5.140, 2.2), (5.146, 1.2), (5.152, 2.9), (5.158, 0.8), (5.164, 1.9), (5.170, 2.6),
    (5.176, 1.1), (5.182, 3.1), (5.188, 1.6), (5.194, 0.6), (5.200, 2.0), (5.206, 1.3),
    (5.212, 2.7), (5.218, 0.9), (5.224, 1.7), (5.230, 2.3), (5.236, 1.0), (5.242, 1.8),
    (4.789, 0.3), (4.807, 0.2), (4.825, 0.3), (4.843, 0.2), (4.861, 0.3), (4.879, 0.2),
    (4.897, 0.3), (4.915, 0.2), (4.933, 0.3), (4.951, 0.2), (4.969, 0.3), (4.987, 0.2),
    (5.005, 0.3), (5.023, 0.2), (5.041, 0.3), (5.059, 0.2), (5.077, 0.3), (5.095, 0.2),
    (5.113, 0.3), (5.131, 0.2), (5.149, 0.3), (5.167, 0.2), (5.185, 0.3), (5.203, 0.2),
]

binary_panels = [None, binary_5, binary_150, binary_1000, binary_5000]
single_panels = [None, single_5, single_150, single_1000, single_5000]

W, H = 920, 1590
COL_LEFT = [104.0, 608.5]     # plot area left edge (px)
PLOT_W = 294.0
ROW_TOP0 = 42.7
ROW_STEP = 320.5
PLOT_H = 206.0
GREEN = "#009e73"
FONT = "Liberation Serif, Times New Roman, serif"

fig = go.Figure()
annotations = []

for row, years in enumerate(YEARS):
    top = ROW_TOP0 + row * ROW_STEP
    ydom = [1 - (top + PLOT_H) / H, 1 - top / H]
    for col in range(2):
        idx = row * 2 + col + 1
        left = COL_LEFT[col]
        xdom = [left / W, (left + PLOT_W) / W]
        sfx = "" if idx == 1 else str(idx)

        if row == 0:
            xs, ys = ring_a, ring_e
            msize = 3.6
        else:
            pts = (binary_panels if col == 0 else single_panels)[row]
            xs = [p[0] for p in pts]
            ys = [p[1] / 1000 for p in pts]
            msize = 2.7

        fig.add_trace(go.Scatter(
            x=xs, y=ys, mode="markers",
            marker=dict(color=GREEN, size=msize, symbol="square", line=dict(width=0)),
            xaxis="x" + sfx, yaxis="y" + sfx,
            showlegend=False, cliponaxis=False,
        ))

        common = dict(showline=True, linecolor="black", linewidth=1.2, mirror="ticks",
                      ticks="inside", ticklen=5, tickwidth=1, tickcolor="#333",
                      showgrid=False, zeroline=False, automargin=False,
                      tickfont=dict(family=FONT, size=19.5, color="black"))
        fig.update_layout(**{
            "xaxis" + sfx: dict(domain=xdom, range=[4.4, 5.6], tickvals=A_TICKS,
                                ticktext=A_LABELS, anchor="y" + sfx,
                                ticklabelstandoff=2, **common),
            "yaxis" + sfx: dict(domain=ydom, range=[0, 0.06], tickvals=E_TICKS,
                                ticktext=E_LABELS, anchor="x" + sfx,
                                ticklabelstandoff=7, **common),
        })

        if col == 0:
            title = f"Binary System 16R<sub>stars</sub> - {years} years"
        else:
            title = f"Single star with J<sub>2</sub> for 16R<sub>stars</sub> - {years} years"
        cx = (left + PLOT_W / 2) / W
        annotations.append(dict(text=title, x=cx, y=1 - (top - 26) / H, xref="paper", yref="paper",
                                xanchor="center", yanchor="middle", showarrow=False,
                                font=dict(family=FONT, size=19, color="black")))
        annotations.append(dict(text="Semi-major axis (AU)", x=cx, y=1 - (top + PLOT_H + 47) / H,
                                xref="paper", yref="paper", xanchor="center", yanchor="middle",
                                showarrow=False, font=dict(family=FONT, size=19, color="black")))
        annotations.append(dict(text="Eccentricity", x=(left - 86) / W, y=1 - (top + PLOT_H / 2) / H,
                                xref="paper", yref="paper", xanchor="center", yanchor="middle",
                                textangle=-90, showarrow=False,
                                font=dict(family=FONT, size=19, color="black")))

fig.update_layout(template="none", width=W, height=H,
                  margin=dict(l=0, r=0, t=0, b=0, pad=0),
                  plot_bgcolor="white", paper_bgcolor="white",
                  annotations=annotations)

# drop the default 8 px body margin so the figure fills the window exactly
fig.write_html("out.html", config={"displayModeBar": False},
               post_script="document.body.style.margin = '0';")
